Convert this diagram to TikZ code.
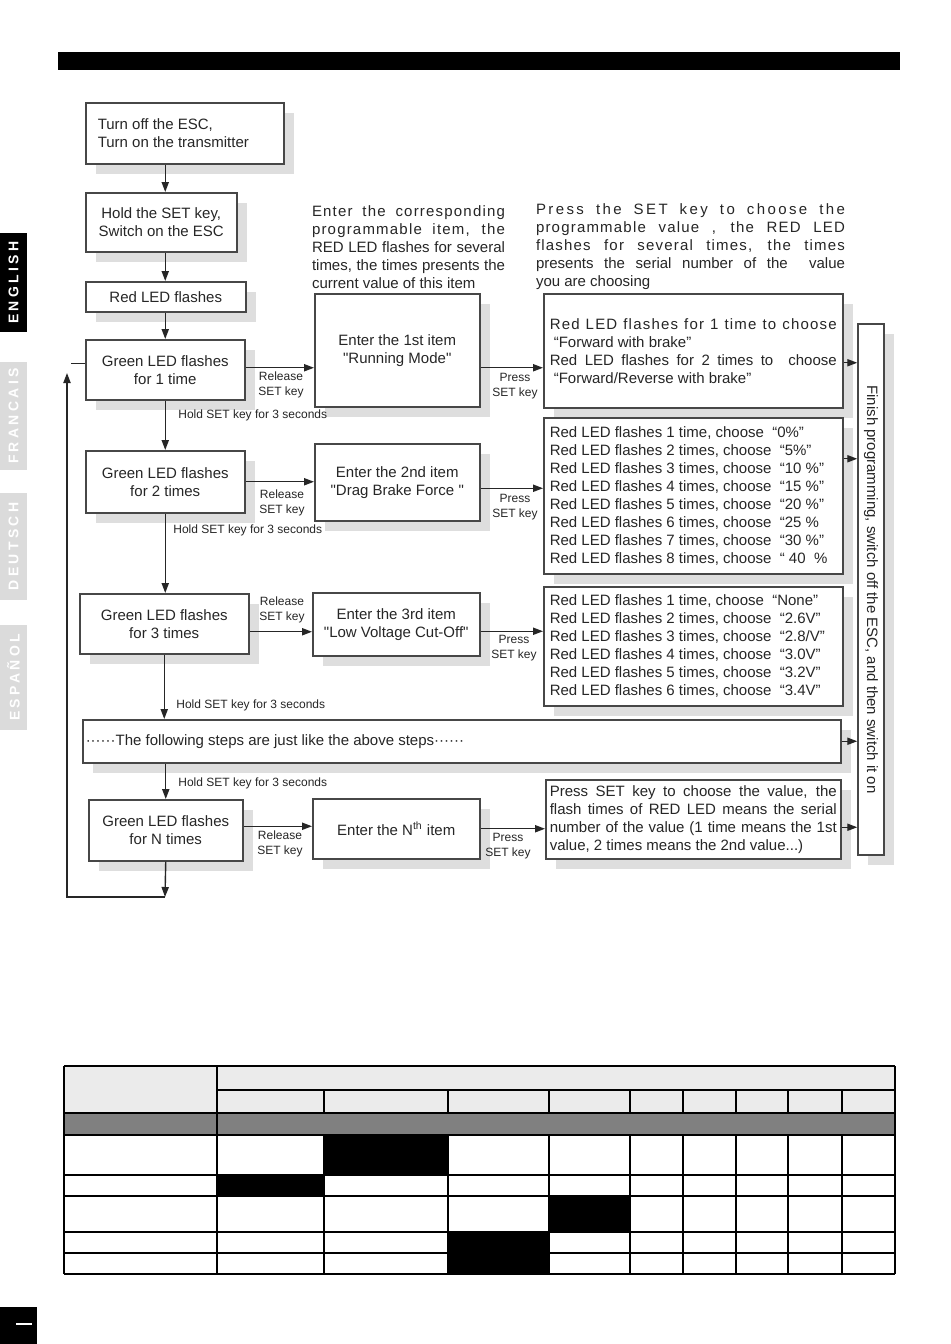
\documentclass[tikz,border=0pt]{standalone}
\usepackage{fontspec}
\setmainfont{Liberation Sans}
\newfontfamily\tabfont[LetterSpace=24]{Liberation Sans}
\newfontfamily\widefont[LetterSpace=8]{Liberation Sans}
\newfontfamily\widerfont[LetterSpace=16]{Liberation Sans}
\usetikzlibrary{arrows.meta,shadows}
\newcommand\sk{\spaceskip=0pt\xspaceskip=0pt\relax}
\newcommand\jline[2]{{\sk\makebox[#1][s]{#2}}}
\newcommand\qt[1]{\textquotedbl#1\textquotedbl}

\begin{document}
\begin{tikzpicture}[x=0.5pt,y=-0.5pt,
  box/.style={draw=black!72,line width=0.75pt,fill=white,text=black!85,
    font=\fontsize{7.5}{9}\selectfont,align=center,inner sep=0pt,anchor=north west,
    drop shadow={shadow xshift=5pt,shadow yshift=-5pt,fill=black!13,opacity=1}},
  lbl/.style={text=black!85,font=\fontsize{6}{7.5}\selectfont,align=center,inner sep=0pt},
  desc/.style={text=black!85,font=\fontsize{7.5}{9}\selectfont,align=left,inner sep=0pt},
  arr/.style={draw=black!85,line width=0.7pt,-{Triangle[length=5pt,width=3.6pt]}},
  tab/.style={text=white,font=\tabfont\bfseries\fontsize{7}{8}\selectfont,rotate=90,inner sep=0pt}]
\fill[white] (0,0) rectangle (950,1344);
\useasboundingbox (0,0) rectangle (950,1344);
% bandeau et onglets
\fill[black] (58,52) rectangle (900,70);
\node[tab,fill=black,minimum width=49.5pt,minimum height=13.5pt] (en) at (13.5,282.5) {ENGLISH};
\node[tab,fill=black!14,minimum width=54pt,minimum height=13.5pt] (fr) at (13.5,416) {FRANCAIS};
\node[tab,fill=black!14,minimum width=53.5pt,minimum height=13.5pt] (de) at (13.5,546.5) {DEUTSCH};
\node[tab,fill=black!14,minimum width=52.5pt,minimum height=13.5pt] (es) at (13.5,677.5) {ESPAÑOL};
\fill[black] (0,1307) rectangle (37,1344);
\draw[white,line width=0.8pt] (16,1324) -- (32,1324);

% organigramme
\node[box,minimum width=99pt,minimum height=30.5pt,text width=87pt,align=left] (turnoff) at (85,102) {\sk Turn off the ESC,\\Turn on the transmitter};
\node[box,minimum width=75.5pt,minimum height=29.5pt] (holdset) at (85,192) {Hold the SET key,\\Switch on the ESC};
\node[box,minimum width=80pt,minimum height=15pt] (redled) at (85,281) {Red LED flashes};
\node[box,minimum width=79.5pt,minimum height=30pt] (green1) at (85,339) {Green LED flashes\\for 1 time};
\node[box,minimum width=82.5pt,minimum height=56.5pt] (enter1) at (314,293) {Enter the 1st item\\\qt{Running Mode}};
\node[box,minimum width=149.5pt,minimum height=57pt,text width=143.5pt,align=left] (value1) at (543,293)
  {\sk\jline{143.5pt}{\widefont Red LED flashes for 1 time to choose}\\\hspace*{2pt}“Forward with brake”\\\jline{143.5pt}{Red LED flashes for 2 times to\ \ choose}\\\hspace*{2pt}“Forward/Reverse with brake”};
\node[box,minimum width=79.5pt,minimum height=31pt] (green2) at (85,450) {Green LED flashes\\for 2 times};
\node[box,minimum width=82.5pt,minimum height=38.5pt] (enter2) at (314,443) {Enter the 2nd item\\\qt{Drag Brake Force }};
\node[box,minimum width=149.5pt,minimum height=78pt,text width=143.5pt,align=left] (value2) at (543,417)
  {\sk Red LED flashes 1 time, choose\ \ “0\%”\\Red LED flashes 2 times, choose\ \ “5\%”\\Red LED flashes 3 times, choose\ \ “10 \%”\\Red LED flashes 4 times, choose\ \ “15 \%”\\Red LED flashes 5 times, choose\ \ “20 \%”\\Red LED flashes 6 times, choose\ \ “25 \%\\Red LED flashes 7 times, choose\ \ “30 \%”\\Red LED flashes 8 times, choose\ \ “ 40\ \ \%};
\node[box,minimum width=84.5pt,minimum height=30pt] (green3) at (79,593) {Green LED flashes\\for 3 times};
\node[box,minimum width=83.5pt,minimum height=31.5pt] (enter3) at (312,592) {Enter the 3rd item\\\qt{Low Voltage Cut-Off}};
\node[box,minimum width=149.5pt,minimum height=59.5pt,text width=143.5pt,align=left] (value3) at (543,586)
  {\sk Red LED flashes 1 time, choose\ \ “None”\\Red LED flashes 2 times, choose\ \ “2.6V”\\Red LED flashes 3 times, choose\ \ “2.8/V”\\Red LED flashes 4 times, choose\ \ “3.0V”\\Red LED flashes 5 times, choose\ \ “3.2V”\\Red LED flashes 6 times, choose\ \ “3.4V”};
\node[box,minimum width=379pt,minimum height=21.5pt,text width=376pt,align=left] (following) at (82,719) {\sk······The following steps are just like the above steps······};
\node[box,minimum width=77pt,minimum height=30.5pt] (greenN) at (88,799) {Green LED flashes\\for N times};
\node[box,minimum width=83.5pt,minimum height=30pt] (enterN) at (312,798) {Enter the N\textsuperscript{th} item};
\node[box,minimum width=147.5pt,minimum height=39.5pt,text width=143.5pt,align=left] (valueN) at (545,779)
  {\sk\jline{143.5pt}{Press SET key to choose the value, the}\\\jline{143.5pt}{flash times of RED LED means the serial}\\\jline{143.5pt}{number of the value (1 time means the 1st}\\value, 2 times means the 2nd value...)};
\node[box,anchor=center,minimum width=13pt,minimum height=265.5pt] (finish) at (871,589.5) {\rotatebox{-90}{\sk Finish programming, switch off the ESC, and then switch it on}};

% textes explicatifs
\node[desc,text width=96.5pt] (desc1) at (408.5,247)
  {\sk\jline{96.5pt}{\widefont Enter the corresponding}\\\jline{96.5pt}{\widefont programmable item, the}\\\jline{96.5pt}{RED LED flashes for several}\\\jline{96.5pt}{times, the times presents the}\\current value of this item};
\node[desc,text width=154.5pt] (desc2) at (690.5,247)
  {\sk\jline{154.5pt}{\widerfont Press the SET key to choose the}\\\jline{154.5pt}{\widefont programmable value , the RED LED}\\\jline{154.5pt}{\widefont flashes for several times, the times}\\\jline{154.5pt}{presents the serial number of the\ \ value}\\you are choosing};

% fleches
\draw[arr] (turnoff.south -| green1) -- (holdset.north -| green1);
\draw[arr] (holdset.south -| green1) -- (redled.north -| green1);
\draw[arr] (redled.south -| green1) -- (green1.north);
\draw[arr] (green1.south) -- (green2.north);
\draw[arr] (green2.south) -- (green3.north -| green2);
\draw[arr] (green3.south) -- (following.north -| green3);
\draw[arr] (following.south -| greenN) -- (greenN.north);
\coordinate (loopend) at (165,897);
\coordinate (looptop) at (67,373);
\draw[arr] (greenN.south) -- (loopend);
\draw[arr] (loopend) -| (looptop);
\draw[draw=black!85,line width=0.7pt] ([yshift=3pt]green1.west) -- ++(-7pt,0);

\draw[arr] ([yshift=1pt]green1.east) -- ([yshift=1pt]green1.east -| enter1.west);
\draw[arr] ([yshift=1pt]enter1.east |- green1.east) -- ([yshift=1pt]value1.west |- green1.east);
\draw[arr] (green2.east) -- (green2.east -| enter2.west);
\draw[arr] ([yshift=-3pt]enter2.east) -- ([yshift=-3pt]enter2.east -| value2.west);
\draw[arr] ([yshift=-4pt]green3.east) -- ([yshift=-4pt]green3.east -| enter3.west);
\draw[arr] ([yshift=-3.5pt]enter3.east) -- ([yshift=-3.5pt]enter3.east -| value3.west);
\draw[arr] ([yshift=2pt]greenN.east) -- ([yshift=2pt]greenN.east -| enterN.west);
\draw[arr] (enterN.east) -- (enterN.east -| valueN.west);
\draw[arr] ([yshift=-6pt]value1.east) -- ([yshift=-6pt]value1.east -| finish.west);
\draw[arr] ([yshift=18.5pt]value2.east) -- ([yshift=18.5pt]value2.east -| finish.west);
\draw[arr] (following.east) -- (following.east -| finish.west);
\draw[arr] ([yshift=-4pt]valueN.east) -- ([yshift=-4pt]valueN.east -| finish.west);

\node[lbl] (rel1) at (281,385) {Release\\SET key};
\node[lbl] (press1) at (515,386) {Press\\SET key};
\node[lbl,anchor=west] (hold1) at (178,415) {Hold SET key for 3 seconds};
\node[lbl] (rel2) at (282,503) {Release\\SET key};
\node[lbl] (press2) at (515,507) {Press\\SET key};
\node[lbl,anchor=west] (hold2) at (173,530) {Hold SET key for 3 seconds};
\node[lbl] (rel3) at (282,610) {Release\\SET key};
\node[lbl] (press3) at (514,648) {Press\\SET key};
\node[lbl,anchor=west] (hold3) at (176,705) {Hold SET key for 3 seconds};
\node[lbl,anchor=west] (hold4) at (178,783) {Hold SET key for 3 seconds};
\node[lbl] (relN) at (280,844) {Release\\SET key};
\node[lbl] (pressN) at (508,846) {Press\\SET key};

% tableau
\fill[black!8] (64,1066) rectangle (895,1113);
\fill[black!50] (64,1113) rectangle (895,1135);
\fill[black] (324,1135) rectangle (448,1175);
\fill[black] (217,1175) rectangle (324,1196);
\fill[black] (549,1196) rectangle (630,1232);
\fill[black] (448,1232) rectangle (549,1274);
\begin{scope}[line width=0.75pt]
\draw (217,1090) -- (895,1090);
\foreach \ry in {1135,1175,1232,1253} \draw (64,\ry) -- (895,\ry);
\foreach \cx in {64,217,895} \draw (\cx,1066) -- (\cx,1274);
\foreach \cx in {324,448,549,630,683,736,788,842} {
  \draw (\cx,1090) -- (\cx,1113);
  \draw (\cx,1135) -- (\cx,1274);
}
\end{scope}
\foreach \ry in {1066,1113,1196,1274} \draw[line width=1.4pt] (64,\ry) -- (895,\ry);
\end{tikzpicture}
\end{document}
